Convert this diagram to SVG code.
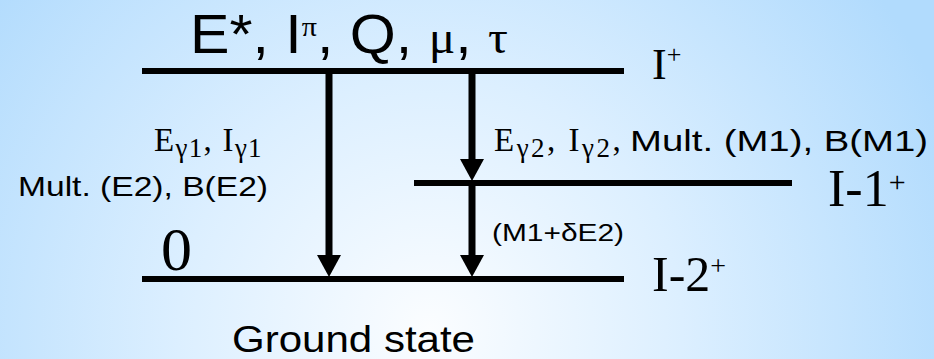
<svg xmlns="http://www.w3.org/2000/svg" width="934" height="359" viewBox="0 0 934 359">
<defs>
<radialGradient id="bg" cx="430" cy="330" r="560" gradientUnits="userSpaceOnUse">
<stop offset="0" stop-color="#fbfdff"/>
<stop offset="0.45" stop-color="#dcefff"/>
<stop offset="1" stop-color="#b1dbfd"/>
</radialGradient>
<marker id="ah" viewBox="0 0 22 24" refX="11" refY="12" markerWidth="22" markerHeight="24" markerUnits="userSpaceOnUse" orient="auto">
<path d="M0,0 L22,12 L0,24 Z" fill="#000"/>
</marker>
</defs>
<style>
.lvl{stroke:#000;stroke-width:6;fill:none}
.arr{stroke:#000;stroke-width:7;fill:none;marker-end:url(#ah)}
.sf{font-family:"Liberation Serif","Times New Roman",serif;fill:#000}
.cs{font-family:"Liberation Sans",Arial,sans-serif;fill:#000}
.eg{font-size:33px;letter-spacing:1.3px}
.sub{font-size:27px}
</style>
<rect x="0" y="0" width="934" height="359" fill="url(#bg)"/>

<g id="level-top">
<line class="lvl" x1="142" y1="71" x2="624" y2="71"/>
<text class="cs" x="190" y="53" font-size="55" textLength="318" lengthAdjust="spacingAndGlyphs">E*, I<tspan class="sf" font-size="28" dy="-17">π</tspan><tspan dy="17">, Q, </tspan><tspan class="sf" font-size="46">μ</tspan>, <tspan class="sf" font-size="46">τ</tspan></text>
<text class="sf" x="652" y="79" font-size="44">I<tspan font-size="26" dy="-16">+</tspan></text>
</g>

<g id="level-mid">
<line class="lvl" x1="414" y1="183" x2="792" y2="183"/>
<text class="sf" x="828" y="206" font-size="52">I-1<tspan font-size="30" dy="-14">+</tspan></text>
</g>

<g id="level-ground">
<line class="lvl" x1="142" y1="279" x2="624" y2="279"/>
<text class="sf" x="161" y="270" font-size="62">0</text>
<text class="sf" x="652" y="291" font-size="50">I-2<tspan font-size="28" dy="-16">+</tspan></text>
<text class="cs" x="232" y="352" font-size="36" textLength="243" lengthAdjust="spacingAndGlyphs">Ground state</text>
</g>

<g id="connectors">
<line class="arr" x1="329" y1="74" x2="329" y2="266"/>
<line class="arr" x1="472" y1="74" x2="472" y2="170"/>
<line class="arr" x1="472" y1="183" x2="472" y2="266"/>
</g>

<g id="label-g1">
<text class="sf eg" x="154" y="151">E<tspan class="sub" dy="6">γ1</tspan><tspan dy="-6">, I</tspan><tspan class="sub" dy="6">γ1</tspan></text>
<text class="cs" x="18" y="196" font-size="28" textLength="250" lengthAdjust="spacingAndGlyphs">Mult. (E2), B(E2)</text>
</g>

<g id="label-g2">
<text class="sf eg" x="494" y="151" style="letter-spacing:2.5px">E<tspan class="sub" dy="6">γ2</tspan><tspan dy="-6">, I</tspan><tspan class="sub" dy="6">γ2</tspan><tspan dy="-6">,</tspan></text>
<text class="cs" x="630" y="151" font-size="30" textLength="298" lengthAdjust="spacingAndGlyphs">Mult. (M1), B(M1)</text>
<text class="cs" x="492" y="241" font-size="23" textLength="132" lengthAdjust="spacingAndGlyphs">(M1+δE2)</text>
</g>
</svg>
